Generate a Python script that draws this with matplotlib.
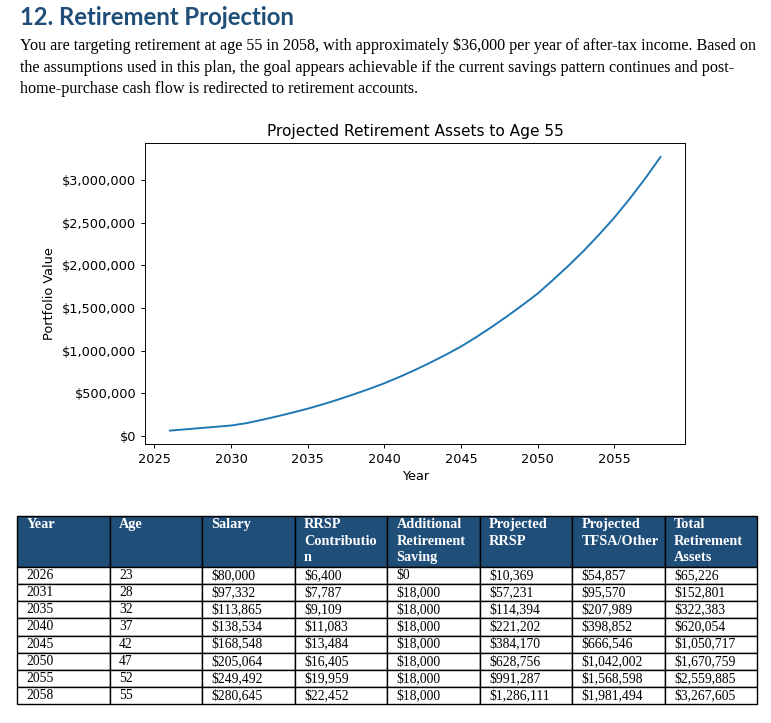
import matplotlib
matplotlib.use("Agg")
import matplotlib.pyplot as plt
from matplotlib.ticker import FuncFormatter

plt.rcParams["text.parse_math"] = False

# Curve: total retirement assets per year
curve_years = list(range(2026, 2059))
curve_assets = [
    65226, 80000, 95000, 110000, 125000,
    152801, 191000, 232000, 276000, 322383,
    374000, 430000, 490000, 553000, 620054,
    695000, 776000, 862000, 953000, 1050717,
    1161000, 1279000, 1404000, 1534000, 1670759,
    1830000, 1995000, 2170000, 2360000, 2559885,
    2780000, 3015000, 3267605,
]

# Table data
tbl_years = [2026, 2031, 2035, 2040, 2045, 2050, 2055, 2058]
tbl_ages = [23, 28, 32, 37, 42, 47, 52, 55]
tbl_salary = [80000, 97332, 113865, 138534, 168548, 205064, 249492, 280645]
tbl_rrsp_contrib = [6400, 7787, 9109, 11083, 13484, 16405, 19959, 22452]
tbl_additional = [0, 18000, 18000, 18000, 18000, 18000, 18000, 18000]
tbl_proj_rrsp = [10369, 57231, 114394, 221202, 384170, 628756, 991287, 1286111]
tbl_proj_tfsa = [54857, 95570, 207989, 398852, 666546, 1042002, 1568598, 1981494]
tbl_total = [65226, 152801, 322383, 620054, 1050717, 1670759, 2559885, 3267605]

col_labels = ["Year", "Age", "Salary", "RRSP\nContributio\nn",
              "Additional\nRetirement\nSaving", "Projected\nRRSP",
              "Projected\nTFSA/Other", "Total\nRetirement\nAssets"]

heading = "12. Retirement Projection"
para_lines = [
    "You are targeting retirement at age 55 in 2058, with approximately $36,000 per year of after-tax income. Based on",
    "the assumptions used in this plan, the goal appears achievable if the current savings pattern continues and post-",
    "home-purchase cash flow is redirected to retirement accounts.",
]

W, H = 771, 723
fig = plt.figure(figsize=(W / 100, H / 100), dpi=100)
fig.patch.set_facecolor("white")

# -- Heading & paragraph --
fig.text(20 / W, 1 - 25 / H, heading, family="Lato", fontweight="bold",
         fontsize=17.2, color="#1f4e79", va="baseline", ha="left")
for i, line in enumerate(para_lines):
    fig.text(20 / W, 1 - (50 + 21.5 * i) / H, line, family="Liberation Serif",
             fontsize=11.6, color="black", va="baseline", ha="left")

# -- Chart --
ax = fig.add_axes([145.3 / W, 1 - 444.3 / H, 539.7 / W, 301 / H])
ax.plot(curve_years, curve_assets, color="#1f77b4", linewidth=1.4)
ax.set_title("Projected Retirement Assets to Age 55", fontsize=11.1, pad=5)
ax.set_xlabel("Year", fontsize=9.3, labelpad=3)
ax.set_ylabel("Portfolio Value", fontsize=9.3, labelpad=4)
ax.yaxis.set_major_formatter(FuncFormatter(lambda v, p: f"${v:,.0f}"))
ax.tick_params(labelsize=9.3, length=3, width=0.7)
for s in ax.spines.values():
    s.set_linewidth(0.7)

# -- Table --
rows = []
for i in range(len(tbl_years)):
    rows.append([
        str(tbl_years[i]), str(tbl_ages[i]),
        f"${tbl_salary[i]:,}", f"${tbl_rrsp_contrib[i]:,}",
        f"${tbl_additional[i]:,}", f"${tbl_proj_rrsp[i]:,}",
        f"${tbl_proj_tfsa[i]:,}", f"${tbl_total[i]:,}",
    ])

# pad header labels to 3 lines so text sits at the top of the cell
hdr = [lbl + "\n" * (2 - lbl.count("\n")) for lbl in col_labels]

tax = fig.add_axes([17.3 / W, 1 - 704.3 / H, 740 / W, 188.3 / H])
tax.axis("off")
tbl = tax.table(cellText=rows, colLabels=hdr, cellLoc="left",
                colLoc="left", bbox=[0, 0, 1, 1])
tbl.auto_set_font_size(False)
for (r, c), cell in tbl.get_celld().items():
    cell.set_edgecolor("black")
    cell.set_linewidth(1.0)
    txt = cell.get_text()
    txt.set_fontfamily("Liberation Serif")
    if r == 0:
        cell.set_height(50.7)
        cell.set_facecolor("#1f4e79")
        txt.set_color("white")
        txt.set_fontweight("bold")
        txt.set_fontsize(10.3)
        txt.set_linespacing(1.35)
    else:
        cell.set_height(17.2)
        txt.set_fontsize(9.8)

fig.savefig("out.png", dpi=100, facecolor="white")
